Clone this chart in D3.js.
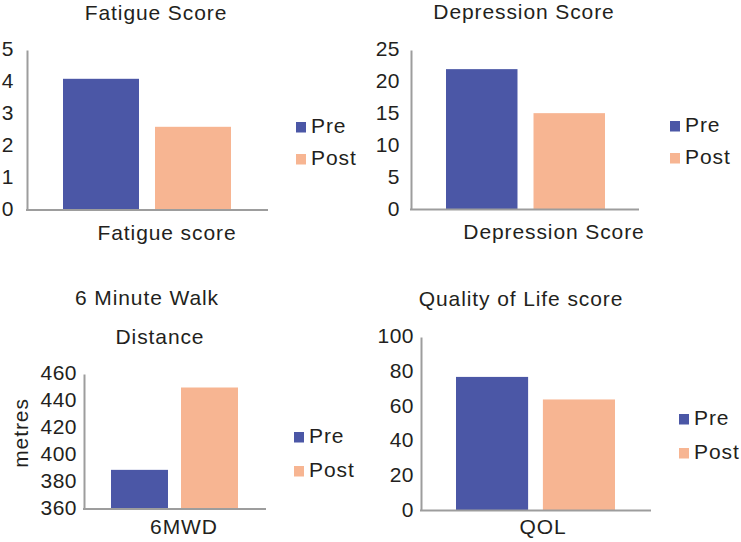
<!DOCTYPE html>
<html>
<head>
<meta charset="utf-8">
<script src="https://cdn.jsdelivr.net/npm/d3@7"></script>
<style>
  html, body { margin: 0; padding: 0; background: #ffffff; }
  svg text { font-family: "Liberation Sans", Arial, Helvetica, sans-serif; fill: #231f20; }
</style>
</head>
<body>
<svg id="chart" width="741" height="542"></svg>
<script>
// ---------- data ----------
const series = ["Pre", "Post"];

const fatigueTitle = ["Fatigue Score"];
const fatigueCategories = ["Fatigue score"];
const fatigueValues = [4.1, 2.6];
const fatigueTicks = [0, 1, 2, 3, 4, 5];

const depressionTitle = ["Depression Score"];
const depressionCategories = ["Depression Score"];
const depressionValues = [22, 15.1];
const depressionTicks = [0, 5, 10, 15, 20, 25];

const walkTitle = ["6 Minute Walk", "Distance"];
const walkCategories = ["6MWD"];
const walkValues = [389, 450];
const walkTicks = [360, 380, 400, 420, 440, 460];
const walkYLabel = "metres";

const qolTitle = ["Quality of Life score"];
const qolCategories = ["QOL"];
const qolValues = [77, 64];
const qolTicks = [0, 20, 40, 60, 80, 100];

// ---------- style ----------
const colors = ["#4b57a6", "#f7b592"];
const axisColor = "#9d9d9d";
const fontSize = 21;
const letterSpacing = 0.9;

const svg = d3.select("#chart");

function panel(cfg) {
  const g = svg.append("g");
  const y = d3.scaleLinear()
    .domain([cfg.ticks[0], cfg.ticks[cfg.ticks.length - 1]])
    .range([cfg.yBase, cfg.yTop]);

  const x = d3.scaleBand().domain(cfg.categories).range([cfg.groupL, cfg.groupR]).padding(0);
  const xs = d3.scaleBand().domain(series).range([0, x.bandwidth()]).paddingInner(cfg.innerPad).paddingOuter(0);

  // bars
  cfg.categories.forEach(cat => {
    g.selectAll(null)
      .data(series.map((s, i) => ({ s, v: cfg.values[i], i })))
      .enter().append("rect")
      .attr("x", d => x(cat) + xs(d.s))
      .attr("width", xs.bandwidth())
      .attr("y", d => y(d.v))
      .attr("height", d => y(y.domain()[0]) - y(d.v))
      .attr("fill", d => colors[d.i]);
  });

  // y axis
  const ax = g.append("g")
    .attr("transform", `translate(${cfg.x0},0)`)
    .call(d3.axisLeft(y).tickValues(cfg.ticks).tickSize(0).tickPadding(cfg.tickPad).tickFormat(d3.format("d")));
  ax.select(".domain").attr("stroke", axisColor).attr("stroke-width", 2);
  ax.selectAll("text")
    .attr("font-size", fontSize)
    .attr("letter-spacing", 0.5)
    .attr("dy", "0.27em")
    .style("font-family", '"Liberation Sans", Arial, sans-serif')
    .attr("fill", "#231f20");

  // x axis line
  g.append("line")
    .attr("x1", cfg.x0 - 1).attr("x2", cfg.x1)
    .attr("y1", cfg.yBase).attr("y2", cfg.yBase)
    .attr("stroke", axisColor).attr("stroke-width", 2);

  // category label
  g.append("text")
    .attr("x", cfg.catX).attr("y", cfg.catY)
    .attr("text-anchor", "middle")
    .attr("font-size", fontSize)
    .attr("letter-spacing", letterSpacing)
    .text(cfg.categories[0]);

  // title
  cfg.title.forEach((t, i) => {
    g.append("text")
      .attr("x", cfg.titleX[i]).attr("y", cfg.titleY[i])
      .attr("text-anchor", "middle")
      .attr("font-size", fontSize)
      .attr("letter-spacing", letterSpacing)
      .text(t);
  });

  // y label
  if (cfg.yLabel) {
    g.append("text")
      .attr("transform", `translate(${cfg.yLabelX},${cfg.yLabelY}) rotate(-90)`)
      .attr("text-anchor", "middle")
      .attr("font-size", fontSize)
      .attr("letter-spacing", letterSpacing)
      .text(cfg.yLabel);
  }

  // legend
  const lg = g.append("g").attr("transform", `translate(${cfg.legX},${cfg.legY})`);
  series.forEach((s, i) => {
    lg.append("rect")
      .attr("x", 0).attr("y", i * cfg.legStep)
      .attr("width", 10).attr("height", 10.5)
      .attr("fill", colors[i]);
    lg.append("text")
      .attr("x", 15).attr("y", i * cfg.legStep + 10.5)
      .attr("font-size", fontSize)
      .attr("letter-spacing", letterSpacing)
      .text(s);
  });
}

panel({
  title: fatigueTitle, categories: fatigueCategories, values: fatigueValues, ticks: fatigueTicks,
  x0: 27, x1: 268, yTop: 50, yBase: 210, groupL: 63, groupR: 231, innerPad: 0.174,
  tickPad: 13, catX: 167, catY: 240, titleX: [156], titleY: [19.5],
  legX: 296, legY: 122, legStep: 32
});

panel({
  title: depressionTitle, categories: depressionCategories, values: depressionValues, ticks: depressionTicks,
  x0: 411, x1: 639, yTop: 50, yBase: 209.5, groupL: 446, groupR: 605, innerPad: 0.183,
  tickPad: 11, catX: 554, catY: 238.5, titleX: [524], titleY: [18.5],
  legX: 670, legY: 121, legStep: 32
});

panel({
  title: walkTitle, categories: walkCategories, values: walkValues, ticks: walkTicks,
  x0: 84, x1: 266, yTop: 374, yBase: 509, groupL: 111, groupR: 238, innerPad: 0.186,
  tickPad: 7, catX: 184, catY: 534, titleX: [147, 160], titleY: [304.5, 343.5],
  yLabel: walkYLabel, yLabelX: 28, yLabelY: 433,
  legX: 294, legY: 432, legStep: 34
});

panel({
  title: qolTitle, categories: qolCategories, values: qolValues, ticks: qolTicks,
  x0: 421, x1: 651, yTop: 337, yBase: 510.5, groupL: 456, groupR: 615, innerPad: 0.17,
  tickPad: 7, catX: 543, catY: 534, titleX: [521], titleY: [305.5],
  legX: 679, legY: 414, legStep: 34
});
</script>
</body>
</html>
